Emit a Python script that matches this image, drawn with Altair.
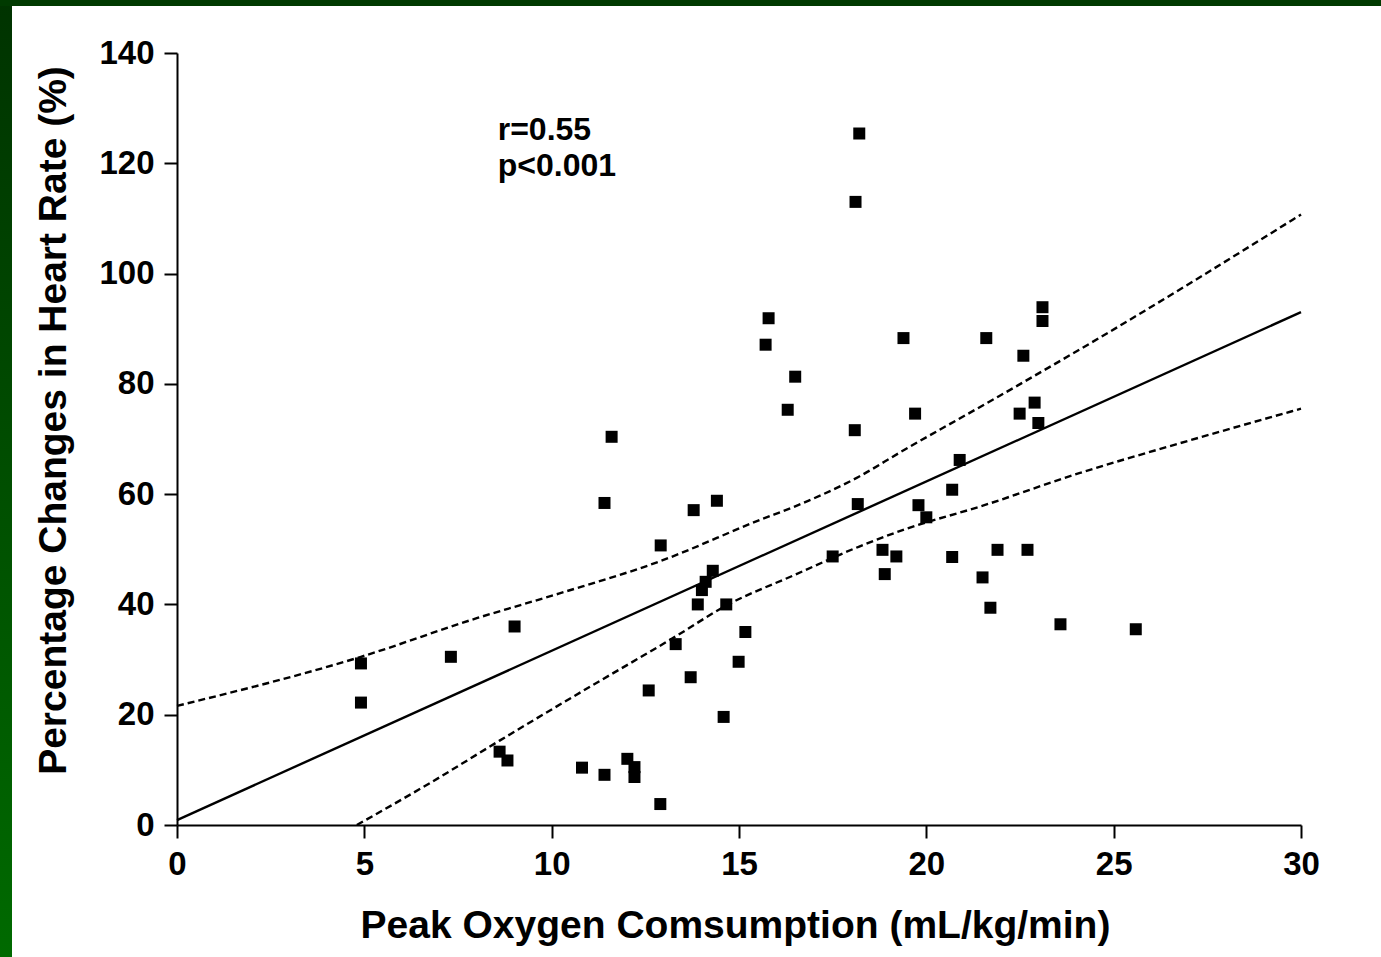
import altair as alt
import pandas as pd

# ---- data ----
vo2 = [4.91, 4.91, 7.31, 9.01, 8.61, 8.82, 10.81, 11.41, 12.02, 12.21,
       12.21, 12.90, 12.59, 13.31, 13.71, 14.59, 14.99, 15.17, 14.66, 13.90,
       14.01, 14.11, 14.30, 12.91, 13.79, 14.41, 11.41, 11.60, 15.71, 15.79,
       16.50, 16.30, 17.50, 18.09, 18.17, 18.11, 18.21, 18.83, 18.89, 19.20,
       19.39, 19.70, 19.79, 20.00, 20.69, 20.69, 20.89, 21.50, 21.60, 21.71,
       21.90, 22.49, 22.59, 22.70, 22.89, 22.99, 23.10, 23.10, 23.58, 25.59]
hr_change = [29.3, 22.2, 30.5, 36.0, 13.3, 11.7, 10.4, 9.1, 12.0, 10.5,
             8.7, 3.8, 24.4, 32.8, 26.8, 19.6, 29.6, 35.0, 40.0, 40.0,
             42.6, 44.1, 46.1, 50.7, 57.1, 58.8, 58.4, 70.4, 87.1, 91.9,
             81.3, 75.3, 48.7, 71.6, 58.2, 113.0, 125.4, 49.9, 45.5, 48.7,
             88.3, 74.6, 58.0, 55.8, 60.8, 48.6, 66.2, 44.9, 88.3, 39.4,
             49.9, 74.6, 85.1, 49.9, 76.6, 72.9, 93.9, 91.4, 36.4, 35.5]

fit_x = [0, 30]
fit_y = [0.9, 93.0]

upper_x = [0, 4.91, 8.0, 10.21, 12.88, 15.55, 16.5, 18.21, 19.28, 21.95, 24.61, 30]
upper_y = [21.6, 30.5, 37.5, 42.0, 47.8, 55.3, 57.8, 63.2, 67.5, 77.8, 88.3, 110.7]

lower_x = [4.8, 6.75, 8.61, 10.83, 13.31, 14.66, 16.5, 18.21, 19.5, 21.41, 24.08, 26.75, 30]
lower_y = [0, 7.6, 15.3, 24.3, 34.2, 39.8, 45.4, 50.5, 53.8, 57.7, 63.8, 69.2, 75.5]

x_ticks = [0, 5, 10, 15, 20, 25, 30]
y_ticks = [0, 20, 40, 60, 80, 100, 120, 140]

annot_text = ["r=0.55", "p<0.001"]

pts = pd.DataFrame({"x": vo2, "y": hr_change})
fit = pd.DataFrame({"x": fit_x, "y": fit_y})
up = pd.DataFrame({"x": upper_x, "y": upper_y})
lo = pd.DataFrame({"x": lower_x, "y": lower_y})
one = pd.DataFrame({"k": [0]})

FONT = "Liberation Sans"

xscale = alt.Scale(domain=[0, 30], nice=False, zero=False)
yscale = alt.Scale(domain=[0, 140], nice=False, zero=False)

xaxis = alt.Axis(values=x_ticks, labelFlush=False, labelOverlap=False, labelPadding=10,
                 title="Peak Oxygen Comsumption (mL/kg/min)",
                 titleX=558, titleY=112, titleBaseline="alphabetic", titleAlign="center")
yaxis = alt.Axis(values=y_ticks, labelFlush=False, labelOverlap=False, labelPadding=10,
                 title="Percentage Changes in Heart Rate (%)",
                 titleAngle=270, titleX=-112, titleY=367,
                 titleBaseline="alphabetic", titleAlign="center")

base_pts = alt.Chart(pts).mark_point(shape="square", filled=True, size=144,
                                     color="black", opacity=1).encode(
    x=alt.X("x:Q", scale=xscale, axis=xaxis),
    y=alt.Y("y:Q", scale=yscale, axis=yaxis),
)

fit_line = alt.Chart(fit).mark_line(color="black", strokeWidth=2.4).encode(
    x=alt.X("x:Q", scale=xscale), y=alt.Y("y:Q", scale=yscale))

up_line = alt.Chart(up).mark_line(color="black", strokeWidth=2.4, strokeDash=[7, 4],
                                  interpolate="monotone").encode(
    x=alt.X("x:Q", scale=xscale), y=alt.Y("y:Q", scale=yscale))

lo_line = alt.Chart(lo).mark_line(color="black", strokeWidth=2.4, strokeDash=[7, 4],
                                  interpolate="monotone").encode(
    x=alt.X("x:Q", scale=xscale), y=alt.Y("y:Q", scale=yscale))

annot = alt.Chart(one).mark_text(text=annot_text, font=FONT, fontSize=32, fontWeight="bold",
                                 lineHeight=36, align="left", baseline="alphabetic",
                                 color="black").encode(
    x=alt.datum(8.56), y=alt.datum(124.2))

green_grad = alt.LinearGradient(
    gradient="linear",
    stops=[alt.GradientStop(color="#003300", offset=0),
           alt.GradientStop(color="#006a00", offset=1)],
    x1=0, x2=0, y1=0, y2=1)

left_band = alt.Chart(one).mark_rect(color=green_grad).encode(
    x=alt.value(-177), x2=alt.value(-165), y=alt.value(-53), y2=alt.value(904))
top_band = alt.Chart(one).mark_rect(color="#003a00").encode(
    x=alt.value(-177), x2=alt.value(1204), y=alt.value(-53), y2=alt.value(-47))

chart = alt.layer(left_band, top_band, fit_line, up_line, lo_line, base_pts, annot).properties(
    width=1124, height=772, autosize="none",
    padding={"left": 177, "top": 53, "right": 80, "bottom": 132},
    background="white",
).configure_axis(
    domainColor="black", domainWidth=2, tickColor="black", tickWidth=2, tickSize=13,
    labelFont=FONT, labelFontSize=33, labelFontWeight="bold", labelColor="black",
    titleFont=FONT, titleFontSize=39, titleFontWeight="bold", titleColor="black",
    grid=False,
).configure_view(stroke=None)

chart.save("out.html", embed_options={"renderer": "svg", "actions": False})
